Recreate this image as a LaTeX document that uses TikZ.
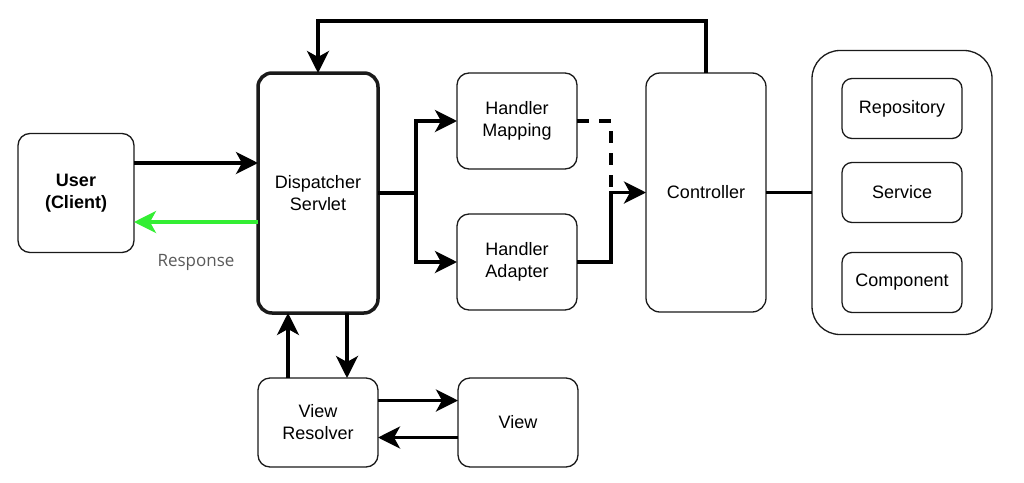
\documentclass[tikz,border=0pt]{standalone}
\usepackage{fontspec}
\setmainfont{Liberation Sans}
\newfontfamily\respfont{Open Sans}
\usetikzlibrary{arrows.meta,positioning}
\definecolor{ink}{HTML}{1A1A1A}
\definecolor{respgreen}{HTML}{33EE33}
\definecolor{respgray}{HTML}{5A5A5A}
\tikzset{
  node_box/.style={draw=ink,line width=1.3pt,fill=white,rounded corners=12pt,outer sep=0pt,
    minimum width=120pt,minimum height=96pt,font=\fontsize{18}{22}\selectfont,align=center,inner sep=0pt},
  node_tall/.style={node_box,minimum height=240pt,rounded corners=14pt},
  node_small/.style={node_box,minimum height=60pt,rounded corners=10pt},
  node_group/.style={draw=ink,line width=1.3pt,rounded corners=28pt,outer sep=0pt,
    minimum width=180pt,minimum height=284pt},
  arr/.style={-{Stealth[length=22pt,width=22pt,inset=6pt]},draw=black,line width=3.5pt},
  line_thick/.style={draw=black,line width=3.5pt},
  line_dash/.style={line_thick,dash pattern=on 12pt off 10pt},
}

\begin{document}
\begin{tikzpicture}[x=1pt,y=-1pt]
  \useasboundingbox (0,0) rectangle (1024,482);

  \node[node_tall,line width=3.5pt] (disp) at (318,193) {Dispatcher\\Servlet};
  \node[node_box,minimum width=116pt,minimum height=119pt,font=\fontsize{18}{22}\selectfont\bfseries,left=124pt of disp] (user) {User\\(Client)};

  \node[node_box,below right=0pt and 79pt of disp.north east] (hmap) {Handler\\Mapping};
  \node[node_box,below=45pt of hmap] (hadp) {Handler\\Adapter};
  \node[node_tall,minimum height=239pt,below right=0pt and 69pt of hmap.north east] (ctrl) {Controller};

  \node[node_group,right=46pt of ctrl] (group) {};
  \node[node_small] (serv) at (group) {Service};
  \node[node_small,above=24pt of serv] (repo) {Repository};
  \node[node_small,below=30pt of serv] (comp) {Component};

  \node[node_box,minimum height=89pt,below=65pt of disp] (vres) {View\\Resolver};
  \node[node_box,minimum height=89pt,right=80pt of vres] (view) {View};

  \node[font=\respfont\fontsize{17}{20}\selectfont,text=respgray] (resp) at (196,262) {Response};

  \coordinate (split) at ([xshift=38pt]disp.east);
  \coordinate (join) at ([xshift=-35pt]ctrl.west);

  \draw[arr] ([yshift=30pt]user.east) -- ([yshift=30pt]user.east -| disp.west);
  \draw[arr,draw=respgreen] ([yshift=-29pt]disp.west) -- ([yshift=-29pt]disp.west -| user.east);
  \draw[arr] (disp.east) -- (split) |- (hmap.west);
  \draw[arr] (split) |- (hadp.west);
  \draw[line_dash] (hmap.east) -| (join);
  \draw[arr] (hadp.east) -| (join) -- (ctrl.west);
  \draw[arr] (ctrl.north) |- ([yshift=52pt]disp.north) -- (disp.north);
  \draw[line_thick] (ctrl) -- (group);
  \draw[arr] ([xshift=-30pt]vres.north) -- ([xshift=-30pt]disp.south);
  \draw[arr] ([xshift=29pt]disp.south) -- ([xshift=29pt]vres.north);
  \draw[arr] ([yshift=22pt]vres.east) -- ([yshift=22pt]vres.east -| view.west);
  \draw[arr] ([yshift=-15pt]view.west) -- ([yshift=-15pt]view.west -| vres.east);
\end{tikzpicture}
\end{document}
